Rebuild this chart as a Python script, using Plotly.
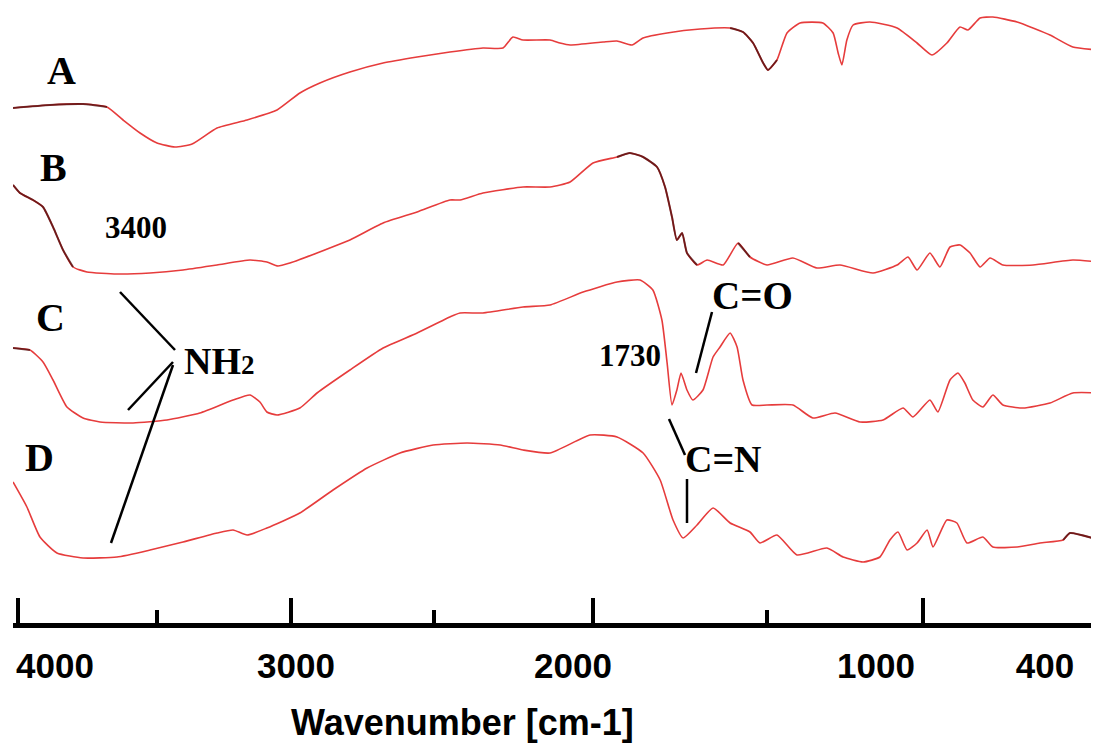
import numpy as np
import plotly.graph_objects as go

# ---------------- data (wavenumber in cm-1, transmittance in arbitrary offset units) -------------
WN_A = [4018, 3885, 3766, 3680, 3622, 3561, 3500, 3433, 3369, 3276, 3164, 3052, 2969, 2899, 2794,
        2678, 2559, 2450, 2346, 2283, 2252, 2220, 2135, 2104, 2072, 1971, 1931, 1888, 1856, 1787,
        1692, 1606, 1569, 1540, 1511, 1497, 1468, 1436, 1394, 1321, 1288, 1272, 1260, 1244, 1224,
        1170, 1083, 1019, 974, 931, 893, 870, 835, 798, 728, 633, 567, 491]
T_A = [517, 520, 521, 518, 505, 492, 482, 478, 481, 497, 505, 515, 532, 542, 553,
       562, 568, 573, 577, 577, 588, 585, 585, 582, 580, 583, 584, 580, 587, 592,
       596, 597, 593, 582, 562, 555, 565, 592, 602, 602, 592, 572, 560, 585, 600,
       603, 597, 582, 570, 582, 598, 595, 607, 608, 603, 590, 578, 575]

WN_B = [4018, 3993, 3946, 3910, 3874, 3838, 3802, 3752, 3644, 3525, 3403, 3276, 3153, 3090, 3049,
        3004, 2909, 2794, 2678, 2559, 2450, 2418, 2346, 2220, 2135, 2072, 2000, 1931, 1894, 1856,
        1816, 1793, 1773, 1759, 1744, 1730, 1701, 1672, 1626, 1583, 1549, 1500, 1417, 1340, 1266,
        1160, 1083, 1048, 1019, 980, 951, 922, 893, 864, 835, 806, 769, 682, 567, 491]
T_B = [440, 432, 425, 418, 398, 375, 358, 353, 351, 352, 355, 360, 365, 363, 359,
       362, 372, 385, 402, 413, 425, 425, 432, 438, 438, 443, 462, 468, 472, 468,
       458, 438, 408, 385, 392, 372, 360, 365, 360, 382, 368, 360, 367, 357, 360,
       352, 360, 368, 355, 372, 358, 378, 380, 372, 358, 367, 360, 360, 365, 363]

WN_C = [4018, 3957, 3910, 3874, 3824, 3766, 3705, 3586, 3463, 3340, 3216, 3153, 3116, 3090, 3052,
        2969, 2909, 2794, 2678, 2559, 2450, 2418, 2346, 2220, 2135, 2031, 1931, 1865, 1828, 1802,
        1787, 1773, 1759, 1747, 1730, 1713, 1684, 1655, 1635, 1606, 1586, 1569, 1543, 1500, 1417,
        1353, 1282, 1202, 1128, 1064, 1032, 980, 957, 922, 899, 879, 856, 827, 798, 769,
        711, 633, 567, 491]
T_C = [277, 275, 263, 245, 218, 207, 203, 202, 205, 212, 225, 230, 223, 213, 210,
       217, 232, 255, 277, 292, 308, 312, 312, 318, 320, 333, 343, 345, 335, 305,
       262, 220, 235, 252, 235, 225, 235, 268, 278, 292, 278, 245, 220, 220, 220,
       207, 212, 203, 205, 217, 208, 225, 213, 245, 252, 242, 225, 218, 230, 220,
       217, 222, 232, 232]

WN_D = [4018, 3968, 3921, 3860, 3766, 3644, 3525, 3403, 3276, 3216, 3164, 3090, 2969, 2853, 2734,
        2619, 2503, 2396, 2292, 2220, 2135, 2009, 1931, 1856, 1807, 1770, 1741, 1701, 1655, 1606,
        1549, 1520, 1468, 1404, 1308, 1256, 1192, 1138, 1106, 1080, 1051, 1019, 988, 971, 931,
        902, 873, 827, 798, 728, 662, 595, 575, 491]
T_D = [143, 118, 88, 72, 67, 68, 75, 83, 92, 95, 90, 97, 112, 135, 157,
       172, 180, 182, 180, 175, 172, 190, 188, 172, 145, 105, 87, 100, 117, 102,
       93, 82, 90, 70, 77, 68, 63, 68, 85, 93, 75, 82, 95, 78, 105,
       102, 82, 88, 78, 78, 82, 85, 92, 85]

SERIES = [("A", WN_A, T_A), ("B", WN_B, T_B), ("C", WN_C, T_C), ("D", WN_D, T_D)]

# spectral windows (cm-1) where the recorded trace is noisy / darkened
NOISY = {"A": [(4018, 3680), (1606, 1468)],
         "B": [(4018, 3800), (1931, 1701), (1583, 1549)],
         "C": [(4018, 3957)],
         "D": [(595, 491)]}

MAJOR_TICKS = [4000, 3000, 2000, 1000, 500]
MINOR_TICKS = [3500, 2500, 1500]
TICK_LABELS = ["4000", "3000", "2000", "1000", "400"]

# ---------------- instrument axis scale (piecewise, as printed) -------------
SCALE_WN = [400, 500, 1000, 1500, 2000, 2500, 3000, 3500, 4000, 4100]
SCALE_POS = [1112.6, 1078, 905, 749, 575, 416, 273, 139, 0, -27.8]


def to_axis(wn):
    return np.interp(np.asarray(wn, dtype=float), SCALE_WN, SCALE_POS)


LABEL_POS = [37, 278, 555, 858, 1027]   # where the printed tick labels sit
X_RANGE = [-5, 1081]
Y_RANGE = [2, 617]

RED = "#e63c3c"
DARK = "#4a0c0c"
SERIF = "Liberation Serif"
SANS = "Liberation Sans"

fig = go.Figure()
for name, wn, t in SERIES:
    wn_arr = np.asarray(wn, dtype=float)
    t_arr = np.asarray(t, dtype=float)
    fig.add_trace(go.Scatter(x=to_axis(wn_arr), y=t_arr, mode="lines", name=name,
                             line=dict(color=RED, width=1.6, shape="spline", smoothing=0.5),
                             showlegend=False, hoverinfo="skip"))
    for hi, lo in NOISY.get(name, []):
        m = (wn_arr <= hi) & (wn_arr >= lo)
        fig.add_trace(go.Scatter(x=to_axis(wn_arr[m]), y=t_arr[m], mode="lines",
                                 line=dict(color=DARK, width=2, shape="spline", smoothing=0.5),
                                 opacity=0.75, showlegend=False, hoverinfo="skip"))
# carrier for the label axis
fig.add_trace(go.Scatter(x=[None], y=[None], xaxis="x2", showlegend=False, hoverinfo="skip"))

# ---------------- annotations -------------
labels = [
    ("A", 43, 555, 40), ("B", 35, 458, 40), ("C", 32, 308, 40), ("D", 21, 168, 40),
    ("3400", 118, 398, 31), ("1730", 612, 270, 31),
    ("NH<span style='font-size:27px'>2</span>", 201, 264, 38),
    ("C=O", 734, 330, 39), ("C=N", 705, 166, 38),
]
for txt, x, y, size in labels:
    fig.add_annotation(x=x, y=y, xref="x", yref="y", text=txt, showarrow=False,
                       xanchor="center", yanchor="middle",
                       font=dict(family=SERIF, size=size, color="black", weight="bold"))

lines = [
    (102, 333, 157, 275), (110, 215, 155, 263), (93, 82, 155, 260),
    (694, 313, 678, 252), (651, 206, 667, 170), (669, 146, 669, 102),
]
for x0, y0, x1, y1 in lines:
    fig.add_shape(type="line", x0=x0, y0=y0, x1=x1, y1=y1, xref="x", yref="y",
                  line=dict(color="black", width=2.5))

fig.add_annotation(x=444, y=-0.161, xref="x", yref="paper", text="Wavenumber [cm-1]",
                   showarrow=False, xanchor="center", yanchor="middle",
                   font=dict(family=SANS, size=36, color="black", weight="bold"))

fig.update_layout(
    width=1091, height=746,
    margin=dict(l=5, r=0, t=0, b=131),
    paper_bgcolor="white", plot_bgcolor="white",
    xaxis=dict(range=X_RANGE, showgrid=False, zeroline=False,
               showline=True, linecolor="black", linewidth=5,
               tickmode="array", tickvals=to_axis(MAJOR_TICKS), ticks="inside",
               ticklen=25, tickwidth=4, tickcolor="black", showticklabels=False,
               minor=dict(tickmode="array", tickvals=to_axis(MINOR_TICKS), ticks="inside",
                          ticklen=13, tickwidth=4, tickcolor="black", showgrid=False)),
    xaxis2=dict(range=X_RANGE, overlaying="x", side="bottom", anchor="y",
                showgrid=False, zeroline=False, showline=False,
                tickmode="array", tickvals=LABEL_POS, ticktext=TICK_LABELS,
                ticks="outside", ticklen=12, tickcolor="rgba(0,0,0,0)",
                tickfont=dict(family=SANS, size=35, color="black", weight="bold")),
    yaxis=dict(range=Y_RANGE, visible=False),
)

fig.write_html("out.html")
